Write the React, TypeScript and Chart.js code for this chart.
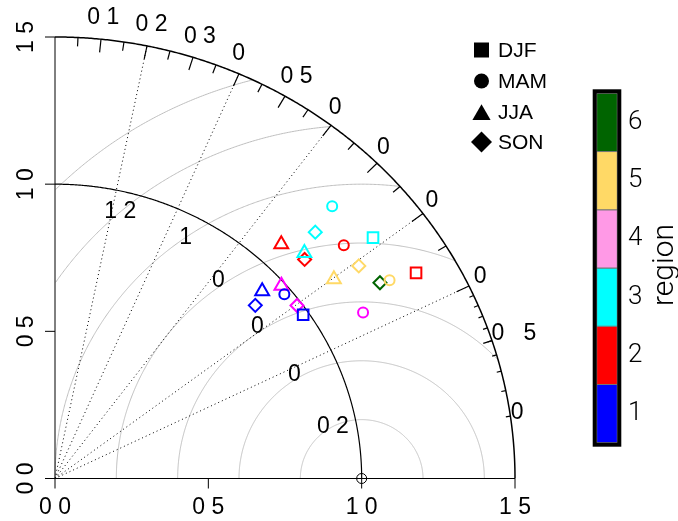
import React, { useEffect, useRef } from "react";
import { Chart, registerables } from "chart.js";

Chart.register(...registerables);

// ---- data ----
const seasons = ["DJF", "MAM", "JJA", "SON"];
const seasonStyles = ["rect", "circle", "triangle", "rectRot"];
const regions = ["1", "2", "3", "4", "5", "6"];
const regionMarkerColors = ["#0000FF", "#FF0000", "#00FFFF", "#FF00FF", "#FFD966", "#006400"];
const regionBarColors = ["#0000FF", "#FF0000", "#00FFFF", "#FF99E6", "#FFD966", "#006400"];

// normalised standard deviation and correlation, by region (1..6)
const sdDJF = [0.982, 1.369, 1.321, 1.907, null, null];
const corDJF = [0.824, 0.86, 0.785, 0.862, null, null];
const sdMAM = [0.975, 1.231, 1.293, 1.152, 1.282, null];
const corMAM = [0.767, 0.765, 0.699, 0.872, 0.851, null];
const sdJJA = [0.928, 1.085, 1.117, 0.987, 1.134, null];
const corJJA = [0.728, 0.68, 0.728, 0.748, 0.802, null];
const sdSON = [0.879, 1.103, 1.192, 0.984, 1.226, 1.251];
const corSON = [0.743, 0.738, 0.712, 0.802, 0.808, 0.847];

const refSD = 1.0;
const maxSD = 1.5;
const axisTicks = [0, 0.5, 1.0, 1.5];
const axisTickLabels = ["0 0", "0 5", "1 0", "1 5"];
const corBigTicks = [0.1, 0.2, 0.3, 0.4, 0.5, 0.6, 0.7, 0.8, 0.9];
const corMedTicks = [0.05, 0.15, 0.25, 0.35, 0.45, 0.55, 0.65, 0.75, 0.85, 0.95];
const corSmallTicks = [0.91, 0.92, 0.93, 0.94, 0.95, 0.96, 0.97, 0.98, 0.99];
const corLabelValues = [0.1, 0.2, 0.3, 0.4, 0.5, 0.6, 0.7, 0.8, 0.9, 0.95, 0.99];
const corLabels = ["0 1", "0 2", "0 3", "0 4", "0 5", "0 6", "0 7", "0 8", "0 9", "0 95", "0 99"];
const corGridLines = [0.2, 0.4, 0.6, 0.8, 0.9];
const gammaValues = [0.2, 0.4, 0.6, 0.8, 1.0, 1.2, 1.4];
const gammaLabels = ["0 2", "0 4", "0 6", "0 8", "1", "1 2"];

const sdBySeason = [sdDJF, sdMAM, sdJJA, sdSON];
const corBySeason = [corDJF, corMAM, corJJA, corSON];

// ---- layout / style ----
const FONT = '"Liberation Sans", Arial, sans-serif';
const MISSING = "46789";
const gammaLabelAngles = [118, 118, 121, 123, 125, 131];
const markerRadius = [7.5, 5, 8, 6.5];

function drawGlyphs(ctx: CanvasRenderingContext2D, str: string, cx: number, cy: number) {
  const w = ctx.measureText(str).width;
  const x0 = cx - w / 2;
  ctx.textAlign = "left";
  ctx.textBaseline = "middle";
  for (let i = 0; i < str.length; i++) {
    const ch = str[i];
    if (ch === " " || MISSING.includes(ch)) continue;
    ctx.fillText(ch, x0 + ctx.measureText(str.slice(0, i)).width, cy);
  }
}

const taylorPlugin = {
  id: "taylor",
  beforeDatasetsDraw(chart: any) {
    const ctx: CanvasRenderingContext2D = chart.ctx;
    const xs = chart.scales.x;
    const ys = chart.scales.y;
    const px = (v: number) => xs.getPixelForValue(v);
    const py = (v: number) => ys.getPixelForValue(v);
    ctx.save();

    // centred RMS (gamma) arcs
    ctx.strokeStyle = "#BEBEBE";
    ctx.lineWidth = 1;
    for (const g of gammaValues) {
      ctx.beginPath();
      let pen = false;
      for (let i = 0; i <= 720; i++) {
        const th = (Math.PI * i) / 720;
        const dx = refSD + g * Math.cos(th);
        const dy = g * Math.sin(th);
        if (dx >= 0 && Math.hypot(dx, dy) <= maxSD) {
          if (pen) ctx.lineTo(px(dx), py(dy));
          else ctx.moveTo(px(dx), py(dy));
          pen = true;
        } else pen = false;
      }
      ctx.stroke();
    }

    // dotted correlation lines
    ctx.strokeStyle = "#000";
    ctx.setLineDash([1, 3]);
    for (const c of corGridLines) {
      ctx.beginPath();
      ctx.moveTo(px(0), py(0));
      ctx.lineTo(px(maxSD * c), py(maxSD * Math.sqrt(1 - c * c)));
      ctx.stroke();
    }
    ctx.setLineDash([]);

    const arc = (r: number, lw: number) => {
      ctx.lineWidth = lw;
      ctx.beginPath();
      for (let i = 0; i <= 400; i++) {
        const a = (Math.PI / 2) * (i / 400);
        const X = px(r * Math.cos(a));
        const Y = py(r * Math.sin(a));
        if (i === 0) ctx.moveTo(X, Y);
        else ctx.lineTo(X, Y);
      }
      ctx.stroke();
    };
    arc(refSD, 1.2);
    arc(maxSD, 1.5);

    // correlation ticks
    const tick = (list: number[], frac: number) => {
      ctx.lineWidth = 1.2;
      for (const c of list) {
        const s = Math.sqrt(1 - c * c);
        ctx.beginPath();
        ctx.moveTo(px(maxSD * c), py(maxSD * s));
        ctx.lineTo(px(maxSD * frac * c), py(maxSD * frac * s));
        ctx.stroke();
      }
    };
    tick(corBigTicks, 0.97);
    tick(corMedTicks, 0.98);
    tick(corSmallTicks, 0.99);

    // axes
    ctx.lineWidth = 1;
    ctx.beginPath();
    ctx.moveTo(px(0), py(0));
    ctx.lineTo(px(maxSD), py(0));
    ctx.moveTo(px(0), py(0));
    ctx.lineTo(px(0), py(maxSD));
    for (const t of axisTicks) {
      ctx.moveTo(px(t), py(0));
      ctx.lineTo(px(t), py(0) + 10);
      ctx.moveTo(px(0), py(t));
      ctx.lineTo(px(0) - 10, py(t));
    }
    ctx.stroke();

    // reference point
    ctx.beginPath();
    ctx.arc(px(refSD), py(0), 5, 0, Math.PI * 2);
    ctx.stroke();

    // labels
    ctx.fillStyle = "#000";
    ctx.font = `23px ${FONT}`;
    axisTicks.forEach((t, i) => {
      drawGlyphs(ctx, axisTickLabels[i], px(t), py(0) + 29);
      ctx.save();
      ctx.translate(px(0) - 28, py(t));
      ctx.rotate(-Math.PI / 2);
      drawGlyphs(ctx, axisTickLabels[i], 0, 0);
      ctx.restore();
    });
    corLabelValues.forEach((c, i) => {
      const r = maxSD * 1.05;
      drawGlyphs(ctx, corLabels[i], px(r * c), py(r * Math.sqrt(1 - c * c)));
    });
    gammaLabels.forEach((lab, i) => {
      const g = gammaValues[i];
      const a = (gammaLabelAngles[i] * Math.PI) / 180;
      drawGlyphs(ctx, lab, px(refSD + g * Math.cos(a)), py(g * Math.sin(a)));
    });
    ctx.restore();
  },
  afterDraw(chart: any) {
    const ctx: CanvasRenderingContext2D = chart.ctx;
    ctx.save();
    // season legend
    const lx = 481.5;
    const rows = [50, 81, 112, 142];
    ctx.fillStyle = "#000";
    seasons.forEach((s, i) => {
      const y = rows[i];
      ctx.beginPath();
      if (i === 0) ctx.rect(lx - 7.5, y - 7.5, 15, 15);
      else if (i === 1) ctx.arc(lx, y, 7.5, 0, Math.PI * 2);
      else if (i === 2) {
        const r = 10.5;
        const cy = y + r / 4;
        ctx.moveTo(lx, cy - r);
        ctx.lineTo(lx + 0.866 * r, cy + r / 2);
        ctx.lineTo(lx - 0.866 * r, cy + r / 2);
        ctx.closePath();
      } else {
        const r = 10.5;
        ctx.moveTo(lx, y - r);
        ctx.lineTo(lx + r, y);
        ctx.lineTo(lx, y + r);
        ctx.lineTo(lx - r, y);
        ctx.closePath();
      }
      ctx.fill();
      ctx.font = `21px ${FONT}`;
      ctx.textAlign = "left";
      ctx.textBaseline = "middle";
      ctx.fillText(s, 498, y + 1);
    });

    // region colour bar
    const bx = 596.7, bw = 20.6, top = 93.3, bottom = 442.7;
    const seg = (bottom - top) / regions.length;
    regions.forEach((r, i) => {
      const y1 = bottom - (i + 1) * seg;
      ctx.fillStyle = regionBarColors[i];
      ctx.fillRect(bx, y1, bw, seg);
      ctx.strokeStyle = "#777";
      ctx.lineWidth = 1;
      ctx.strokeRect(bx, y1, bw, seg);
      ctx.fillStyle = "#000";
      ctx.font = `300 26px Roboto, ${FONT}`;
      ctx.textAlign = "left";
      ctx.textBaseline = "middle";
      ctx.fillText(r, 628, y1 + seg / 2);
    });
    ctx.strokeStyle = "#000";
    ctx.lineWidth = 4;
    ctx.strokeRect(bx - 2, top - 2, bw + 4, bottom - top + 4);

    ctx.save();
    ctx.translate(665, 265);
    ctx.rotate(-Math.PI / 2);
    ctx.font = `300 30px Roboto, ${FONT}`;
    ctx.textAlign = "center";
    ctx.textBaseline = "middle";
    ctx.fillStyle = "#000";
    ctx.fillText("region", 0, 0);
    ctx.restore();
    ctx.restore();
  },
};

export default function App() {
  const ref = useRef<HTMLCanvasElement>(null);
  useEffect(() => {
    if (!ref.current) return;
    const datasets = seasons.map((s, k) => {
      const pts: { x: number; y: number }[] = [];
      const cols: string[] = [];
      sdBySeason[k].forEach((sd, i) => {
        const c = corBySeason[k][i];
        if (sd == null || c == null) return;
        pts.push({ x: sd * c, y: sd * Math.sqrt(1 - c * c) });
        cols.push(regionMarkerColors[i]);
      });
      return {
        label: s,
        data: pts,
        showLine: false,
        pointStyle: seasonStyles[k],
        pointRadius: markerRadius[k],
        pointHoverRadius: markerRadius[k],
        pointBorderWidth: 2,
        pointHoverBorderWidth: 2,
        pointBorderColor: cols,
        pointBackgroundColor: "rgba(0,0,0,0)",
        clip: false as any,
      };
    });
    const chart = new Chart(ref.current, {
      type: "scatter",
      data: { datasets: datasets as any },
      options: {
        responsive: false,
        animation: false,
        devicePixelRatio: 1,
        events: [],
        layout: { padding: { left: 55, top: 37, right: 163, bottom: 42.5 } },
        scales: {
          x: { type: "linear", min: 0, max: maxSD, display: false },
          y: { type: "linear", min: 0, max: maxSD, display: false },
        },
        plugins: { legend: { display: false }, tooltip: { enabled: false } },
      },
      plugins: [taylorPlugin],
    });
    return () => chart.destroy();
  }, []);
  return (
    <div style={{ position: "fixed", left: 0, top: 0, width: 678, height: 521, background: "#fff" }}>
      <canvas ref={ref} width={678} height={521} style={{ display: "block" }} />
    </div>
  );
}
